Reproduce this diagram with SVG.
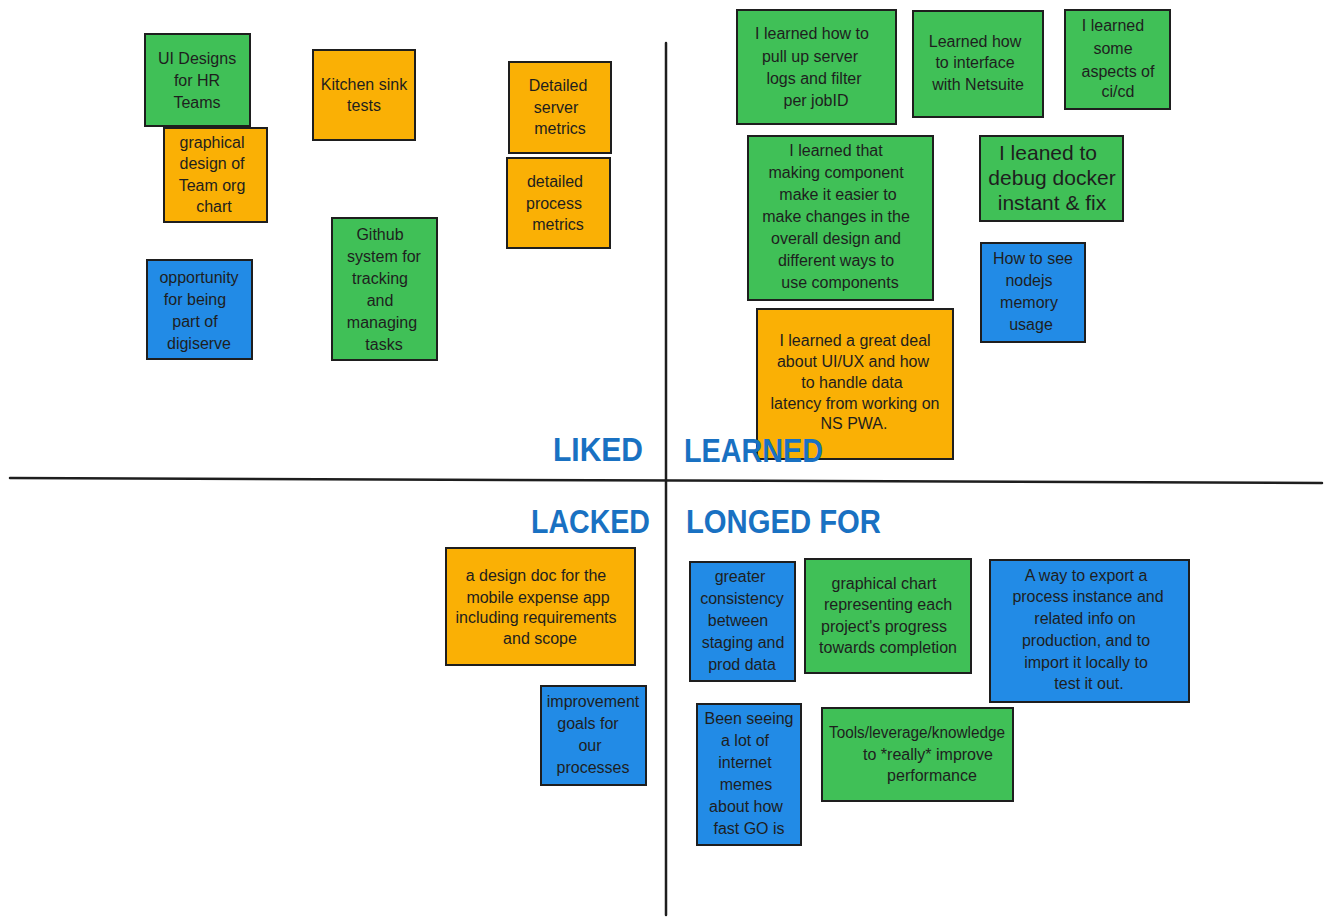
<svg xmlns="http://www.w3.org/2000/svg" width="1331" height="924" viewBox="0 0 1331 924">
<style>
.n rect{stroke:#1e1e1e;stroke-width:2}
.g rect{fill:#40c057}
.o rect{fill:#fab005}
.b rect{fill:#228be6}
.n text{font-family:"Liberation Sans",Arial,sans-serif;font-size:16px;fill:#1e1e1e;text-anchor:middle}
.h{font-family:"Liberation Sans",Arial,sans-serif;font-weight:bold;font-size:34px;fill:#1971c2}
.ax{stroke:#1e1e1e;stroke-width:2.5;fill:none;stroke-linecap:round}
</style>
<rect width="1331" height="924" fill="#ffffff"/>
<g id="connectors">
<path class="ax" d="M666 43 L666 915"/>
<path class="ax" d="M10 478 L1322 483"/>
</g>
<g id="labels">
<text class="h" x="553" y="461" textLength="90" lengthAdjust="spacingAndGlyphs">LIKED</text>
<text class="h" x="531" y="533" textLength="119" lengthAdjust="spacingAndGlyphs">LACKED</text>
<text class="h" x="686" y="533" textLength="195" lengthAdjust="spacingAndGlyphs">LONGED FOR</text>
</g>
<g id="n1" class="n g"><rect x="145" y="34" width="105" height="92"/>
<text x="197" y="64">UI Designs</text><text x="197" y="86">for HR</text><text x="197" y="108">Teams</text></g>
<g id="n2" class="n o"><rect x="164" y="128" width="103" height="94"/>
<text x="212" y="148">graphical</text><text x="212" y="169">design of</text><text x="212" y="191">Team org</text><text x="214" y="212">chart</text></g>
<g id="n3" class="n o"><rect x="313" y="50" width="102" height="90"/>
<text x="364" y="90">Kitchen sink</text><text x="364" y="111">tests</text></g>
<g id="n4" class="n o"><rect x="509" y="62" width="102" height="91"/>
<text x="558" y="91">Detailed</text><text x="556" y="113">server</text><text x="560" y="134">metrics</text></g>
<g id="n5" class="n o"><rect x="507" y="158" width="103" height="90"/>
<text x="555" y="187">detailed</text><text x="554" y="209">process</text><text x="558" y="230">metrics</text></g>
<g id="n6" class="n b"><rect x="147" y="260" width="105" height="99"/>
<text x="199" y="283">opportunity</text><text x="195" y="305">for being</text><text x="195" y="327">part of</text><text x="199" y="349">digiserve</text></g>
<g id="n7" class="n g"><rect x="332" y="218" width="105" height="142"/>
<text x="380" y="240">Github</text><text x="384" y="262">system for</text><text x="380" y="284">tracking</text><text x="380" y="306">and</text><text x="382" y="328">managing</text><text x="384" y="350">tasks</text></g>
<g id="n8" class="n g"><rect x="737" y="10" width="159" height="114"/>
<text x="812" y="39">I learned how to</text><text x="810" y="62">pull up server</text><text x="814" y="84">logs and filter</text><text x="816" y="106">per jobID</text></g>
<g id="n9" class="n g"><rect x="913" y="11" width="130" height="106"/>
<text x="975" y="47">Learned how</text><text x="975" y="68">to interface</text><text x="978" y="90">with Netsuite</text></g>
<g id="n10" class="n g"><rect x="1065" y="10" width="105" height="99"/>
<text x="1113" y="31">I learned</text><text x="1113" y="54">some</text><text x="1118" y="77">aspects of</text><text x="1118" y="97">ci/cd</text></g>
<g id="n11" class="n g"><rect x="748" y="136" width="185" height="164"/>
<text x="836" y="156">I learned that</text><text x="836" y="178">making component</text><text x="838" y="200">make it easier to</text><text x="836" y="222">make changes in the</text><text x="836" y="244">overall design and</text><text x="836" y="266">different ways to</text><text x="840" y="288">use components</text></g>
<g id="n12" class="n g"><rect x="980" y="136" width="143" height="85"/>
<text x="1048" y="160" style="font-size:21px">I leaned to</text><text x="1052" y="185" style="font-size:21px">debug docker</text><text x="1052" y="210" style="font-size:21px">instant &amp; fix</text></g>
<g id="n13" class="n b"><rect x="981" y="243" width="104" height="99"/>
<text x="1033" y="264">How to see</text><text x="1029" y="286">nodejs</text><text x="1029" y="308">memory</text><text x="1031" y="330">usage</text></g>
<g id="n14" class="n o"><rect x="757" y="309" width="196" height="150"/>
<text x="855" y="346">I learned a great deal</text><text x="853" y="367">about UI/UX and how</text><text x="852" y="388">to handle data</text><text x="855" y="409">latency from working on</text><text x="854" y="429">NS PWA.</text></g>
<g id="n14label"><text class="h" x="684" y="462" textLength="139" lengthAdjust="spacingAndGlyphs">LEARNED</text></g>
<g id="n15" class="n o"><rect x="446" y="548" width="189" height="117"/>
<text x="536" y="581">a design doc for the</text><text x="538" y="603">mobile expense app</text><text x="536" y="623">including requirements</text><text x="540" y="644">and scope</text></g>
<g id="n16" class="n b"><rect x="541" y="686" width="105" height="99"/>
<text x="593" y="707">improvement</text><text x="588" y="729">goals for</text><text x="590" y="751">our</text><text x="593" y="773">processes</text></g>
<g id="n17" class="n b"><rect x="690" y="562" width="105" height="119"/>
<text x="740" y="582">greater</text><text x="742" y="604">consistency</text><text x="738" y="626">between</text><text x="743" y="648">staging and</text><text x="742" y="670">prod data</text></g>
<g id="n18" class="n g"><rect x="805" y="559" width="166" height="114"/>
<text x="884" y="589">graphical chart</text><text x="888" y="610">representing each</text><text x="884" y="632">project's progress</text><text x="888" y="653">towards completion</text></g>
<g id="n19" class="n b"><rect x="990" y="560" width="199" height="142"/>
<text x="1086" y="581">A way to export a</text><text x="1088" y="602">process instance and</text><text x="1085" y="624">related info on</text><text x="1086" y="646">production, and to</text><text x="1086" y="668">import it locally to</text><text x="1089" y="689">test it out.</text></g>
<g id="n20" class="n b"><rect x="697" y="704" width="104" height="141"/>
<text x="749" y="724">Been seeing</text><text x="745" y="746">a lot of</text><text x="745" y="768">internet</text><text x="746" y="790">memes</text><text x="746" y="812">about how</text><text x="749" y="834">fast GO is</text></g>
<g id="n21" class="n g"><rect x="822" y="708" width="191" height="93"/>
<text x="917" y="738" textLength="176" lengthAdjust="spacingAndGlyphs">Tools/leverage/knowledge</text><text x="928" y="760">to *really* improve</text><text x="932" y="781">performance</text></g>
</svg>
